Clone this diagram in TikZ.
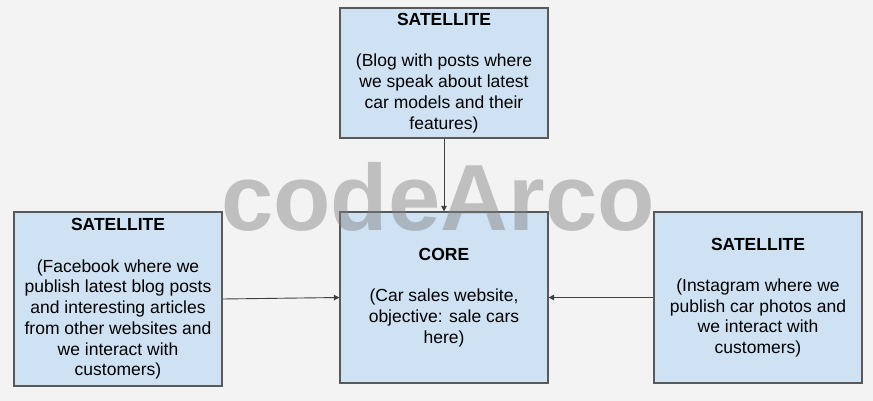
\documentclass[tikz,border=0pt]{standalone}
\usepackage{fontspec}
\setmainfont{Liberation Sans}
\usetikzlibrary{arrows.meta}

\definecolor{boxblue}{HTML}{CFE2F3}
\definecolor{boxline}{HTML}{595959}
\definecolor{pagegray}{HTML}{F3F3F3}

\begin{document}
\begin{tikzpicture}[x=1pt, y=-1pt]
\fill[pagegray] (0,0) rectangle (873,401);
\useasboundingbox (0,0) rectangle (873,401);
\tikzset{BoxStyle/.style ={draw=boxline, line width=1.2pt, fill=boxblue,
  minimum width=208pt, inner sep=0pt, align=center,
  font=\fontsize{17.5}{20.7}\selectfont}}
\tikzset{EdgeStyle/.style ={draw=black!75, line width=0.9pt,
  -{Triangle[length=5.5pt, width=5.5pt]}}}
\node[BoxStyle, minimum height=130pt] (Blog) at (444,73)
  {\textbf{SATELLITE}\\~\\(Blog with posts where\\we speak about latest\\car models and their\\features)};
\node[BoxStyle, minimum height=174pt] (Facebook) at (118,299)
  {\textbf{SATELLITE}\\~\\(Facebook where we\\publish latest blog posts\\and interesting articles\\from other websites and\\we interact with\\customers)};
\node[BoxStyle, minimum height=171pt] (Core) at (444,297.5)
  {\textbf{CORE}\\~\\(Car sales website,\\objective: sale cars\\here)};
\node[BoxStyle, minimum height=171pt] (Insta) at (758,297.5)
  {\textbf{SATELLITE}\\~\\(Instagram where we\\publish car photos and\\we interact with\\customers)};
\draw[EdgeStyle] (Blog.south) -- (Core.north);
\draw[EdgeStyle] (Facebook.east) -- (Core.west);
\draw[EdgeStyle] (Insta.west) -- (Core.east);
% watermark
\node[anchor=base, inner sep=0pt, text=gray, text opacity=0.45,
  font=\fontsize{94}{94}\selectfont\bfseries] (Mark) at (438,230) {codeArco};
\end{tikzpicture}
\end{document}
